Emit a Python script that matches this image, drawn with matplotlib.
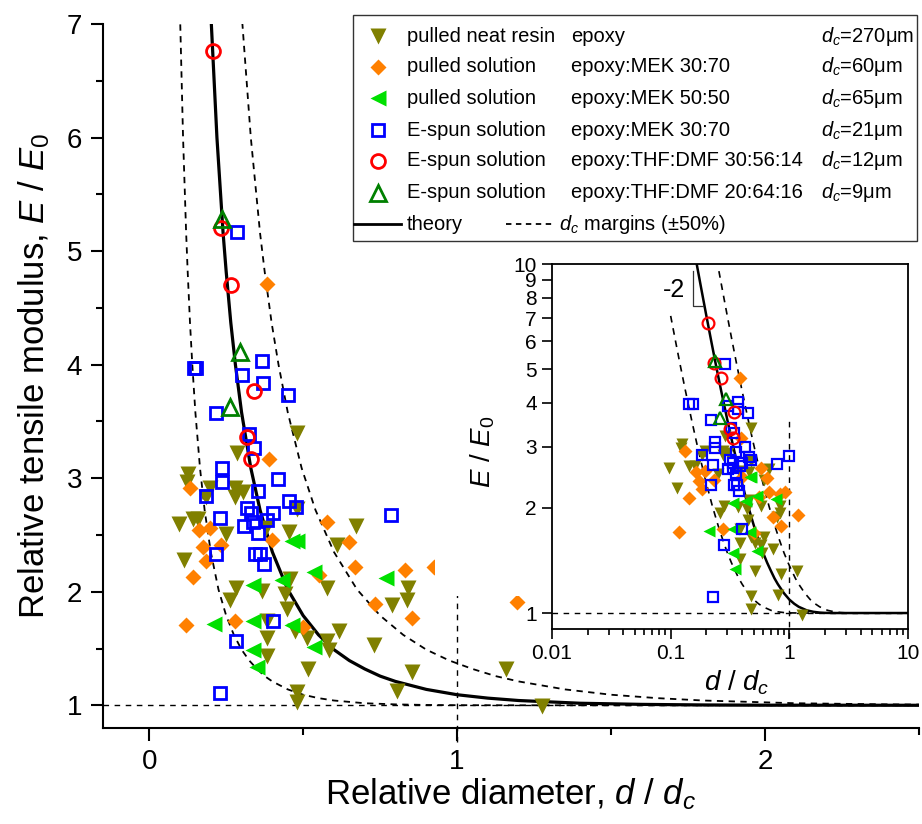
import numpy as np
import matplotlib
matplotlib.use("Agg")
import matplotlib.pyplot as plt
from matplotlib.lines import Line2D
from matplotlib.patches import Rectangle
from matplotlib.ticker import MultipleLocator, FixedLocator, FuncFormatter, LogLocator, NullLocator

plt.rcParams["font.family"] = ["Liberation Sans", "DejaVu Sans"]
plt.rcParams["mathtext.fontset"] = "custom"
plt.rcParams["mathtext.rm"] = "Liberation Sans"
plt.rcParams["mathtext.it"] = "Liberation Sans:italic"

# -----------------------------
# Data (d/dc, E/E0)
# -----------------------------
neat_x = [0.125, 0.122, 0.196, 0.278, 0.305, 0.278, 0.285, 0.479, 0.096, 0.142, 0.160,
          0.251, 0.112, 0.379, 0.453, 0.479, 0.283, 0.261, 0.367, 0.458, 0.441, 0.447,
          0.381, 0.383, 0.473, 0.512, 0.517, 0.479, 0.479, 0.577, 0.583, 0.615, 0.577,
          0.610, 0.673, 0.730, 0.788, 0.839, 0.837, 0.855, 0.806, 1.160, 1.277, 0.185,
          0.381]
neat_y = [3.04, 2.97, 2.91, 2.91, 2.88, 2.83, 3.22, 3.40, 2.60, 2.64, 2.64,
          2.51, 2.28, 2.56, 2.53, 2.73, 2.03, 1.93, 2.01, 2.11, 1.98, 1.85,
          1.59, 1.43, 1.65, 1.59, 1.32, 1.12, 1.03, 1.57, 1.49, 1.65, 2.03,
          2.41, 2.58, 1.53, 1.88, 2.03, 1.93, 1.29, 1.13, 1.32, 0.99, 2.83,
          1.74]

mek3070_x = [0.133, 0.163, 0.196, 0.174, 0.234, 0.185, 0.142, 0.118, 0.278, 0.389, 0.398,
             0.501, 0.550, 0.577, 0.648, 0.670, 0.732, 0.830, 0.855, 0.926, 1.193, 0.382]
mek3070_y = [2.91, 2.54, 2.56, 2.39, 2.41, 2.27, 2.13, 1.71, 1.74, 3.17, 2.46,
             1.69, 2.15, 2.61, 2.44, 2.22, 1.89, 2.19, 1.77, 2.22, 1.91, 4.71]

mek5050_x = [0.212, 0.336, 0.336, 0.336, 0.349, 0.430, 0.463, 0.479, 0.463, 0.534, 0.534, 0.768]
mek5050_y = [1.72, 2.06, 1.74, 1.49, 1.34, 2.10, 2.45, 2.45, 1.71, 2.17, 1.51, 2.12]

es_mek_x = [0.144, 0.153, 0.303, 0.367, 0.370, 0.452, 0.218, 0.325, 0.340, 0.237, 0.237,
            0.185, 0.352, 0.419, 0.455, 0.477, 0.318, 0.332, 0.403, 0.229, 0.307, 0.336,
            0.381, 0.352, 0.218, 0.343, 0.359, 0.373, 0.403, 0.283, 0.229, 0.784, 0.285,
            1.000]
es_mek_y = [3.97, 3.97, 3.91, 4.03, 3.84, 3.73, 3.57, 3.39, 3.27, 3.09, 2.97,
            2.84, 2.89, 2.99, 2.80, 2.75, 2.74, 2.69, 2.69, 2.65, 2.58, 2.61,
            2.63, 2.52, 2.33, 2.33, 2.33, 2.24, 1.74, 1.57, 1.11, 2.68, 5.17,
            2.82]

es_thf30_x = [0.206, 0.232, 0.265, 0.340, 0.317, 0.332]
es_thf30_y = [6.76, 5.20, 4.70, 3.77, 3.36, 3.17]

es_thf20_x = [0.235, 0.294, 0.261]
es_thf20_y = [5.28, 4.11, 3.63]

# theory curve
theory_x = np.array([0.15, 0.16, 0.17, 0.18, 0.19, 0.20, 0.22, 0.24, 0.25, 0.265, 0.28, 0.30,
                     0.33, 0.36, 0.40, 0.45, 0.50, 0.55, 0.60, 0.65, 0.70, 0.75, 0.80, 0.90,
                     1.00, 1.10, 1.20, 1.40, 1.60, 1.80, 2.00, 2.50, 4.00, 10.0])
theory_y = np.array([12.04, 10.67, 9.54, 8.59, 7.79, 7.10, 6.00, 5.16, 4.82, 4.37, 4.00, 3.58,
                     3.09, 2.72, 2.35, 2.02, 1.79, 1.62, 1.49, 1.394, 1.32, 1.257, 1.21, 1.14,
                     1.093, 1.063, 1.042, 1.018, 1.008, 1.003, 1.001, 1.000, 1.000, 1.000])

series = [
    (neat_x, neat_y, dict(marker="v", color="#808000", ms=11, mec="none")),
    (mek3070_x, mek3070_y, dict(marker="D", color="#FF8000", ms=8, mec="none")),
    (mek5050_x, mek5050_y, dict(marker="<", color="#00E000", ms=11, mec="none")),
    (es_mek_x, es_mek_y, dict(marker="s", mfc="none", mec="#0000FF", mew=2, ms=9)),
    (es_thf30_x, es_thf30_y, dict(marker="o", mfc="none", mec="#FF0000", mew=2, ms=10)),
    (es_thf20_x, es_thf20_y, dict(marker="^", mfc="none", mec="#008000", mew=2, ms=11)),
]

legend_kind = ["pulled neat resin", "pulled solution", "pulled solution",
               "E-spun solution", "E-spun solution", "E-spun solution"]
legend_material = ["epoxy", "epoxy:MEK 30:70", "epoxy:MEK 50:50", "epoxy:MEK 30:70",
                   "epoxy:THF:DMF 30:56:14", "epoxy:THF:DMF 20:64:16"]
legend_dc = ["270", "60", "65", "21", "12", "9"]

W, H = 922, 824
def fx(px):
    return px / W
def fy(py):
    return 1 - py / H

fig = plt.figure(figsize=(W / 100, H / 100), dpi=100)

# -------------------------------------------------------------------
# Main axes
# -------------------------------------------------------------------
ax = fig.add_axes([fx(103), fy(728), fx(919) - fx(103), fy(24) - fy(728)])
sel_l = theory_x >= 0.2
sel_r = theory_x >= 0.17
ax.plot(theory_x[sel_l] * 0.5, theory_y[sel_l], color="black", lw=1.3, ls=(0, (3.5, 3)), zorder=2)
ax.plot(theory_x[sel_r] * 1.5, theory_y[sel_r], color="black", lw=1.3, ls=(0, (3.5, 3)), zorder=2)
ax.plot(theory_x, theory_y, color="black", lw=2.3, zorder=2)
ax.axhline(1, color="black", lw=1, ls=(0, (4, 4)), zorder=1)
ax.plot([1, 1], [0.68, 1.97], color="black", lw=1, ls=(0, (4, 4)), clip_on=False, zorder=1)

for xs, ys, kw in series:
    ax.plot(xs, ys, ls="none", zorder=3, **kw)

ax.set_xlim(-0.15, 2.5)
ax.set_ylim(0.8, 7)
ax.spines["top"].set_visible(False)
ax.spines["right"].set_visible(False)
for s in ("left", "bottom"):
    ax.spines[s].set_linewidth(1.5)
ax.set_xticks([0, 1, 2])
ax.xaxis.set_minor_locator(MultipleLocator(0.5))
ax.set_yticks([1, 2, 3, 4, 5, 6, 7])
ax.yaxis.set_minor_locator(MultipleLocator(0.5))
ax.tick_params(which="major", direction="out", length=9, width=1.5, labelsize=20, pad=6)
ax.tick_params(which="minor", direction="out", length=5, width=1.5)

ax.set_xlabel("Relative diameter, $d$ / $d_c$", fontsize=25)
ax.set_ylabel("Relative tensile modulus, $E$ / $E_0$", fontsize=25)
ax.xaxis.set_label_coords(0.5, -0.109)
ax.xaxis.label.set_verticalalignment("baseline")
ax.yaxis.set_label_coords(-0.063, 0.5)

# white fill of the inset layer
ax.add_artist(Rectangle((fx(435), fy(596)), fx(552) - fx(435), fy(245) - fy(596),
                        transform=fig.transFigure, facecolor="white", edgecolor="none",
                        clip_on=False, zorder=10))

# -------------------------------------------------------------------
# Legend (drawn by hand: three text columns)
# -------------------------------------------------------------------
fig.add_artist(Rectangle((fx(353), fy(241)), fx(917) - fx(353), fy(15) - fy(241),
                         transform=fig.transFigure, facecolor="white", edgecolor="#333333",
                         lw=1.0, zorder=20))
rows = [36, 67, 98, 130, 161, 193, 224]
for i, (xs, ys, kw) in enumerate(series):
    fig.add_artist(Line2D([fx(378)], [fy(rows[i])], transform=fig.transFigure, ls="none",
                          zorder=21, **kw))
    fig.text(fx(407), fy(rows[i]), legend_kind[i], fontsize=14.5, va="center", zorder=21)
    fig.text(fx(571), fy(rows[i]), legend_material[i], fontsize=14.5, va="center", zorder=21)
    fig.text(fx(821), fy(rows[i]), "$d_c$=" + legend_dc[i] + "\u03bcm", fontsize=14.5,
             va="center", zorder=21)
fig.add_artist(Line2D([fx(354), fx(401)], [fy(rows[6])] * 2, transform=fig.transFigure,
                      color="black", lw=2, zorder=21))
fig.text(fx(407), fy(rows[6]), "theory", fontsize=14.5, va="center", zorder=21)
fig.add_artist(Line2D([fx(506), fx(552)], [fy(rows[6])] * 2, transform=fig.transFigure,
                      color="black", lw=1.3, ls=(0, (3, 2.5)), zorder=21))
fig.text(fx(559), fy(rows[6]), "$d_c$ margins (\u00b150%)", fontsize=14.5, va="center", zorder=21)

# -------------------------------------------------------------------
# Inset (log-log)
# -------------------------------------------------------------------
axin = fig.add_axes([fx(552), fy(629), fx(908) - fx(552), fy(264) - fy(629)])
axin.set_xscale("log")
axin.set_yscale("log")
axin.plot(theory_x[sel_l] * 0.5, theory_y[sel_l], color="black", lw=1.2, ls=(0, (4, 3.5)), zorder=2)
axin.plot(theory_x[sel_r] * 1.5, theory_y[sel_r], color="black", lw=1.2, ls=(0, (4, 3.5)), zorder=2)
axin.plot(theory_x, theory_y, color="black", lw=1.8, zorder=2)
axin.axhline(1, color="black", lw=1, ls=(0, (4, 4)), zorder=1)
axin.plot([1, 1], [0.85, 3.67], color="black", lw=1, ls=(0, (4, 4)), clip_on=False, zorder=1)

for xs, ys, kw in series:
    kw2 = dict(kw)
    kw2["ms"] = kw["ms"] * 0.85
    if "mew" in kw2:
        kw2["mew"] = 1.6
    axin.plot(xs, ys, ls="none", zorder=3, **kw2)

# slope triangle
axin.plot([0.153, 0.153, 0.189], [9.55, 7.59, 7.59], color="#333333", lw=0.9)
axin.text(0.106, 8.42, "-2", fontsize=18, ha="center", va="center")

axin.set_xlim(0.01, 10)
axin.set_ylim(0.9, 10)
axin.xaxis.set_major_locator(LogLocator(base=10))
axin.xaxis.set_minor_locator(LogLocator(base=10, subs=np.arange(2, 10)))
axin.xaxis.set_major_formatter(FuncFormatter(lambda v, p: f"{v:g}"))
axin.xaxis.set_minor_formatter(FuncFormatter(lambda v, p: ""))
axin.yaxis.set_major_locator(FixedLocator(list(range(1, 11))))
axin.yaxis.set_minor_locator(NullLocator())
axin.yaxis.set_major_formatter(FuncFormatter(lambda v, p: f"{v:g}"))
for s in axin.spines.values():
    s.set_linewidth(1.3)
axin.tick_params(which="major", direction="out", length=7, width=1.2, labelsize=15, pad=4)
axin.tick_params(which="minor", direction="out", length=4, width=1.2)
axin.set_xlabel("$d$ / $d_c$", fontsize=20)
axin.set_ylabel("$E$ / $E_0$", fontsize=20)
axin.xaxis.set_label_coords(0.52, -0.107)
axin.yaxis.set_label_coords(-0.155, 0.485)

fig.savefig("out.png", dpi=100)
